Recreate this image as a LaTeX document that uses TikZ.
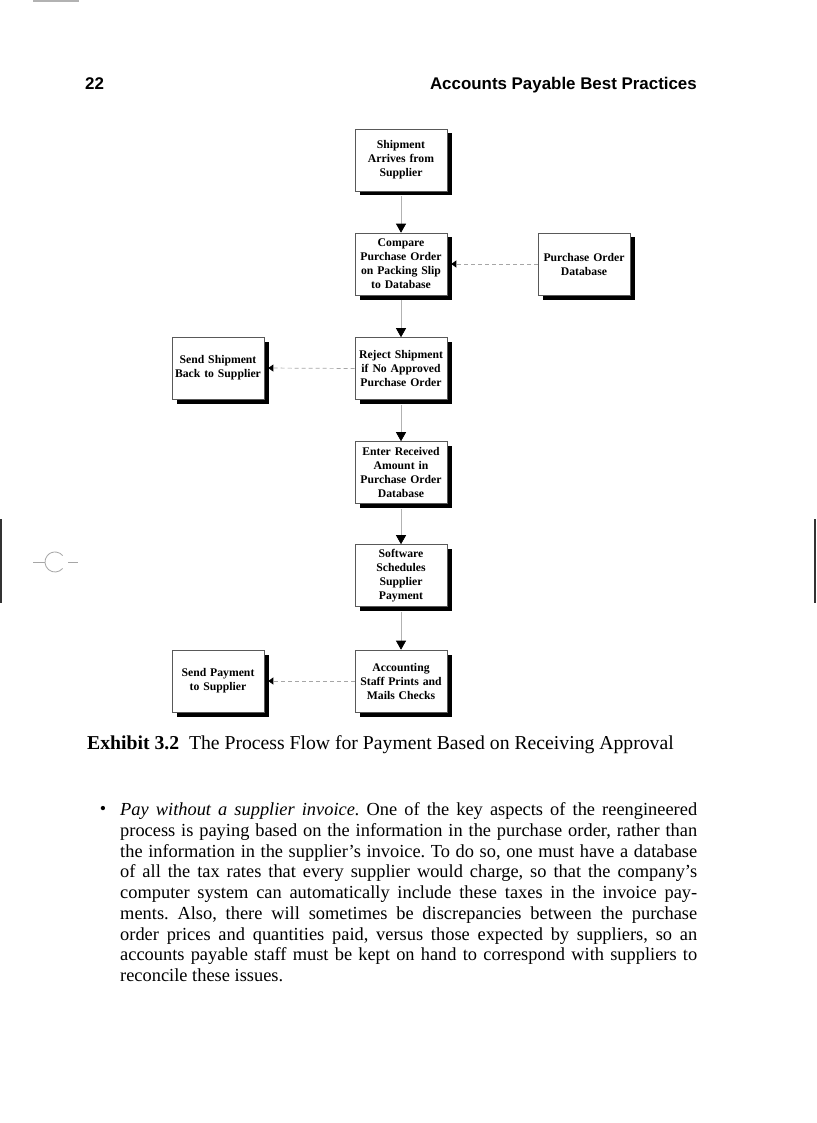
\documentclass[tikz,border=0pt]{standalone}
\usepackage{fontspec}
\setmainfont{Liberation Serif}
\newfontfamily\hdrfont{Liberation Sans}
\usetikzlibrary{arrows.meta,shadows}
\begin{document}
\begin{tikzpicture}[x=1pt,y=-1pt,
  pbox/.style={draw=gray!70!black, line width=0.6pt, fill=white,
    minimum width=92pt, minimum height=62pt, text width=88pt, align=center,
    inner sep=1pt, font=\bfseries\fontsize{11.7}{14}\selectfont,
    drop shadow={shadow xshift=4.5pt, shadow yshift=-4.5pt, fill=black, opacity=1}},
  flow/.style={draw=gray!60, line width=0.7pt, shorten <=5pt,
    -{Triangle[width=10pt,length=9pt,color=black]}},
  dflow/.style={draw=gray!70, line width=0.7pt, dash pattern=on 4pt off 3pt,
    shorten >=4pt, -{Triangle[width=7pt,length=5pt,color=black]}},
  artefact/.style={line width=1.2pt},
  mark line/.style={gray!70, line width=0.8pt}
]
\useasboundingbox (0,0) rectangle (816,1123);
\fill[white] (0,0) rectangle (816,1123);

% scan artefacts
\draw[artefact, gray!60] (33,1) -- (79,1);
\draw[artefact, black!80] (1,519) -- (1,603);
\draw[artefact, black!80] (815,519) -- (815,603);
\draw[mark line] (33,562) -- (45,562);
\draw[mark line] (68,562) -- (78,562);
\draw[mark line] (55,562) ++(40:10) arc[start angle=40, end angle=320, radius=10];

% header
\node[anchor=base west, inner sep=0pt, font=\hdrfont\bfseries\fontsize{16.9}{20}\selectfont] (pagenum) at (85,90) {22};
\node[anchor=base east, inner sep=0pt, font=\hdrfont\bfseries\fontsize{16.9}{20}\selectfont] (runhead) at (697,90) {Accounts Payable Best Practices};

% boxes
\node[pbox] (ship) at (401,160) {Shipment\\Arrives from\\Supplier};
\node[pbox] (cmp) at (401,264) {Compare\\Purchase Order\\on Packing Slip\\to Database};
\node[pbox] (podb) at (584,264) {Purchase Order\\Database};
\node[pbox] (rej) at (401,368.5) {Reject Shipment\\if No Approved\\Purchase Order};
\node[pbox] (back) at (218,368) {Send Shipment\\Back to Supplier};
\node[pbox] (enter) at (401,472.5) {Enter Received\\Amount in\\Purchase Order\\Database};
\node[pbox] (soft) at (401,575.5) {Software\\Schedules\\Supplier\\Payment};
\node[pbox] (acct) at (401,681) {Accounting\\Staff Prints and\\Mails Checks};
\node[pbox] (pay) at (218,681) {Send Payment\\to Supplier};

% connectors
\draw[flow] (ship) -- (cmp);
\draw[flow] (cmp) -- (rej);
\draw[flow] (rej) -- (enter);
\draw[flow] (enter) -- (soft);
\draw[flow] (soft) -- (acct);
\draw[dflow] (podb.west) -- (cmp.east);
\draw[dflow] (rej.west) -- (back.east);
\draw[dflow] (acct.west) -- (pay.east);

% caption
\node[anchor=base west, inner sep=0pt, font=\fontsize{19.7}{22}\selectfont] (caption) at (87,749.5)
  {\textbf{Exhibit 3.2}\hspace{0.5em}The Process Flow for Payment Based on Receiving Approval};

% body
\node[anchor=center, inner sep=0pt, font=\fontsize{18}{20}\selectfont] (bullet) at (103,810.5) {\textbullet};
\node[anchor=base west, inner sep=0pt, text width=577pt, align=justify,
  font=\fontsize{18.4}{20.75}\selectfont] (body) at (120,815.7)
  {\frenchspacing\emergencystretch=3em\hfuzz=20pt\textit{Pay without a supplier invoice.} One of the key aspects of the reengineered\linebreak
  process is paying based on the information in the purchase order, rather than\linebreak
  the information in the supplier's invoice. To do so, one must have a database\linebreak
  of all the tax rates that every supplier would charge, so that the company's\linebreak
  computer system can automatically include these taxes in the invoice pay-\linebreak
  ments. Also, there will sometimes be discrepancies between the purchase\linebreak
  order prices and quantities paid, versus those expected by suppliers, so an\linebreak
  accounts payable staff must be kept on hand to correspond with suppliers to\linebreak
  reconcile these issues.};
\end{tikzpicture}
\end{document}
